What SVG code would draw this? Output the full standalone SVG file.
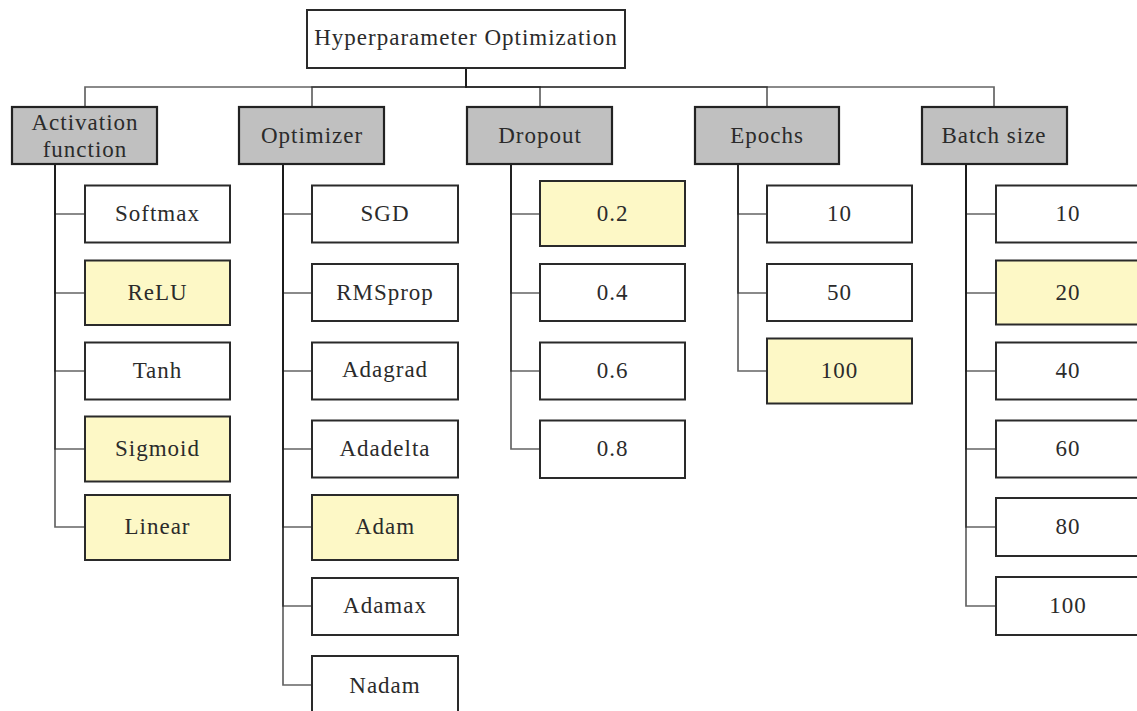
<svg xmlns="http://www.w3.org/2000/svg" width="1137" height="711" viewBox="0 0 1137 711">
<style>
  .edge { fill: none; stroke: #1a1a1a; stroke-width: 1.7; stroke-opacity: 0.68; }
  .root { fill: #fff; stroke: #2a2a2a; stroke-width: 2; }
  .cat { fill: #c0c0c0; stroke: #222; stroke-width: 2.2; }
  .opt { fill: #fff; stroke: #2a2a2a; stroke-width: 2; }
  .sel { fill: #fdf8c6; stroke: #2a2a2a; stroke-width: 2; }
  text { font-family: "Liberation Serif", "Times New Roman", serif; font-size: 23px; fill: #2b2b2b; text-anchor: middle; letter-spacing: 1px; }
</style>
<rect width="1137" height="711" fill="#fff"/>
<g id="connectors">
  <path class="edge" d="M466,68 V87 H85 V107"/>
  <path class="edge" d="M466,68 V87 H312 V107"/>
  <path class="edge" d="M466,68 V87 H540 V107"/>
  <path class="edge" d="M466,68 V87 H767 V107"/>
  <path class="edge" d="M466,68 V87 H994 V107"/>
  <path class="edge" d="M55,164 V214 H85"/>
  <path class="edge" d="M55,164 V293 H85"/>
  <path class="edge" d="M55,164 V371 H85"/>
  <path class="edge" d="M55,164 V449 H85"/>
  <path class="edge" d="M55,164 V527 H85"/>
  <path class="edge" d="M283,164 V214 H312"/>
  <path class="edge" d="M283,164 V293 H312"/>
  <path class="edge" d="M283,164 V371 H312"/>
  <path class="edge" d="M283,164 V449 H312"/>
  <path class="edge" d="M283,164 V527 H312"/>
  <path class="edge" d="M283,164 V606 H312"/>
  <path class="edge" d="M283,164 V685 H312"/>
  <path class="edge" d="M511,164 V214 H540"/>
  <path class="edge" d="M511,164 V293 H540"/>
  <path class="edge" d="M511,164 V371 H540"/>
  <path class="edge" d="M511,164 V449 H540"/>
  <path class="edge" d="M738,164 V214 H767"/>
  <path class="edge" d="M738,164 V293 H767"/>
  <path class="edge" d="M738,164 V371 H767"/>
  <path class="edge" d="M966,164 V214 H996"/>
  <path class="edge" d="M966,164 V293 H996"/>
  <path class="edge" d="M966,164 V371 H996"/>
  <path class="edge" d="M966,164 V449 H996"/>
  <path class="edge" d="M966,164 V527 H996"/>
  <path class="edge" d="M966,164 V606 H996"/>
</g>
<g id="root"><rect class="root" x="307" y="10" width="318" height="58"/><text x="466" y="45">Hyperparameter Optimization</text></g>

<g id="cat-activation"><rect class="cat" x="12" y="107" width="145" height="57"/><text x="85" y="130">Activation</text><text x="85" y="157">function</text></g>
<g id="cat-optimizer"><rect class="cat" x="239" y="107" width="145" height="57"/><text x="312" y="143">Optimizer</text></g>
<g id="cat-dropout"><rect class="cat" x="467" y="107" width="145" height="57"/><text x="540" y="143">Dropout</text></g>
<g id="cat-epochs"><rect class="cat" x="695" y="107" width="144" height="57"/><text x="767" y="143">Epochs</text></g>
<g id="cat-batch"><rect class="cat" x="922" y="107" width="145" height="57"/><text x="994" y="143">Batch size</text></g>

<g id="act-softmax"><rect class="opt" x="85" y="185.5" width="145" height="57"/><text x="157.5" y="221">Softmax</text></g>
<g id="act-relu"><rect class="sel" x="85" y="260.5" width="145" height="64.5"/><text x="157.5" y="300">ReLU</text></g>
<g id="act-tanh"><rect class="opt" x="85" y="342.5" width="145" height="57"/><text x="157.5" y="378">Tanh</text></g>
<g id="act-sigmoid"><rect class="sel" x="85" y="416.5" width="145" height="65"/><text x="157.5" y="456">Sigmoid</text></g>
<g id="act-linear"><rect class="sel" x="85" y="495" width="145" height="65"/><text x="157.5" y="534">Linear</text></g>

<g id="opt-sgd"><rect class="opt" x="312" y="185.5" width="146" height="57"/><text x="385" y="221">SGD</text></g>
<g id="opt-rmsprop"><rect class="opt" x="312" y="264" width="146" height="57"/><text x="385" y="300">RMSprop</text></g>
<g id="opt-adagrad"><rect class="opt" x="312" y="342.5" width="146" height="57"/><text x="385" y="377">Adagrad</text></g>
<g id="opt-adadelta"><rect class="opt" x="312" y="420.5" width="146" height="57"/><text x="385" y="456">Adadelta</text></g>
<g id="opt-adam"><rect class="sel" x="312" y="495" width="146" height="65"/><text x="385" y="534">Adam</text></g>
<g id="opt-adamax"><rect class="opt" x="312" y="578" width="146" height="57"/><text x="385" y="613">Adamax</text></g>
<g id="opt-nadam"><rect class="opt" x="312" y="656" width="146" height="60"/><text x="385" y="693">Nadam</text></g>

<g id="drop-02"><rect class="sel" x="540" y="181" width="145" height="65"/><text x="612.5" y="221">0.2</text></g>
<g id="drop-04"><rect class="opt" x="540" y="264" width="145" height="57"/><text x="612.5" y="300">0.4</text></g>
<g id="drop-06"><rect class="opt" x="540" y="342.5" width="145" height="57"/><text x="612.5" y="378">0.6</text></g>
<g id="drop-08"><rect class="opt" x="540" y="420.5" width="145" height="57.5"/><text x="612.5" y="456">0.8</text></g>

<g id="ep-10"><rect class="opt" x="767" y="185.5" width="145" height="57"/><text x="839.5" y="221">10</text></g>
<g id="ep-50"><rect class="opt" x="767" y="264" width="145" height="57"/><text x="839.5" y="300">50</text></g>
<g id="ep-100"><rect class="sel" x="767" y="338.5" width="145" height="65"/><text x="839.5" y="378">100</text></g>

<g id="bs-10"><rect class="opt" x="996" y="185.5" width="145" height="57"/><text x="1068" y="221">10</text></g>
<g id="bs-20"><rect class="sel" x="996" y="260.5" width="145" height="64"/><text x="1068" y="300">20</text></g>
<g id="bs-40"><rect class="opt" x="996" y="342.5" width="145" height="57"/><text x="1068" y="378">40</text></g>
<g id="bs-60"><rect class="opt" x="996" y="420.5" width="145" height="57"/><text x="1068" y="456">60</text></g>
<g id="bs-80"><rect class="opt" x="996" y="498" width="145" height="58"/><text x="1068" y="534">80</text></g>
<g id="bs-100"><rect class="opt" x="996" y="577" width="145" height="58"/><text x="1068" y="613">100</text></g>
</svg>
